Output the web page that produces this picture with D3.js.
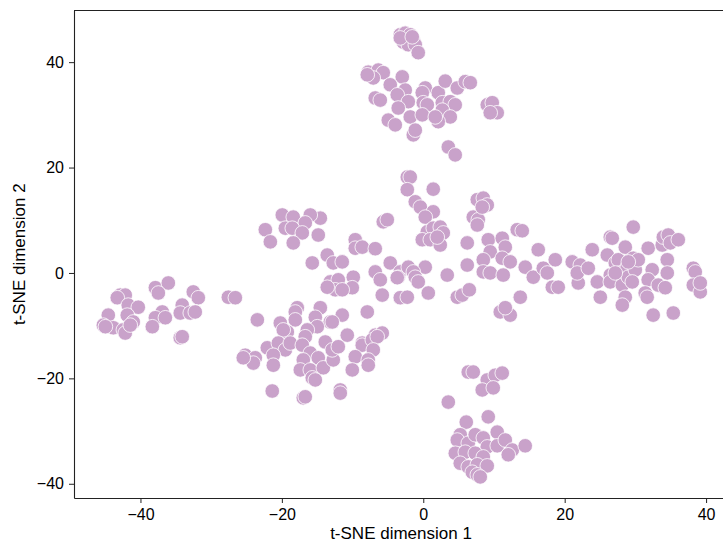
<!DOCTYPE html>
<html>
<head>
<meta charset="utf-8" />
<style>
body { margin: 0; background-color: #FFF; }
#chart { width: 723px; height: 544px; }
text { font-family: "Liberation Sans", Arial, sans-serif; }
</style>
<title>t-SNE scatter</title>
</head>
<body>
<div id="chart"></div>
<script src="https://d3js.org/d3.v7.min.js"></script>
<script>

// point groups, as [dim1, dim2]
var topCluster = [
  [-3.25,45.2],[-2.55,45.5],[-1.84,45.2],[-1.41,44.2],[-2.83,43.8],[-2.12,43.3],[-1.13,43.3],
  [-0.71,41.8],[-3.25,44.6],[-1.56,44.8],[-7.78,38.1],[-6.36,38.5],[-5.66,38.0],[-7.07,37.0],
  [-7.92,37.6],[-2.97,37.2],[-4.67,35.7],[-2.55,34.7],[-3.68,33.8],[-2.12,32.5],[-6.79,33.2],
  [-6.08,32.8],[-3.54,31.3],[-1.84,29.6],[-4.95,29.0],[-3.96,28.1],[-1.41,26.2],[-1.13,27.1],
  [0.28,35.1],[-0.14,34.2],[0.0,32.3],[0.57,31.9],[-0.14,30.0],[2.12,34.2],[3.11,36.4],
  [4.81,35.1],[5.94,36.3],[6.65,36.1],[2.69,32.3],[3.82,32.5],[4.52,31.9],[2.69,30.9],
  [3.82,29.6],[2.12,28.7],[1.70,29.6],[9.05,31.9],[9.76,32.3],[10.46,30.4],[9.47,30.4],
  [3.54,23.9],[4.52,22.4]
];

var centerCluster = [
  [-2.26,18.2],[-1.84,18.2],[-2.26,15.8],[1.41,15.9],[-1.13,13.5],[-0.42,12.5],[1.41,11.6],
  [0.28,10.6],[0.57,7.8],[1.41,8.5],[2.40,8.7],[2.83,7.6],[-0.14,6.3],[0.99,6.3],[2.40,5.3],
  [1.98,6.8],[7.64,13.9],[8.49,14.2],[9.05,12.9],[7.07,10.6],[7.78,10.1],[7.64,9.1],[8.34,12.5],
  [6.22,5.7],[9.19,6.3],[11.17,6.6],[11.60,4.9],[9.47,4.0],[8.49,2.5],[11.17,2.8],[12.30,2.1],
  [8.49,0.2],[9.47,0.0],[11.31,-0.4],[13.29,8.2],[14.0,8.0],[16.26,4.4],[14.42,1.1],[15.56,-0.8],
  [16.97,0.9],[17.54,0.0],[6.22,1.5],[3.39,-0.4],[0.28,1.1],[0.71,-3.8],[4.81,-4.6],[5.52,-4.2],
  [6.51,-3.2],[13.72,-4.6],[10.89,-7.4],[12.30,-8.0],[11.60,-6.6],[-4.67,1.9],[-3.25,0.2],
  [-3.54,-0.8],[-2.12,1.1],[-1.41,0.2],[-1.13,-0.8],[-0.71,-1.7],[-3.25,-4.7],[-2.26,-4.6]
];

var midLeftCluster = [
  [-5.66,9.7],[-5.09,10.1],[-9.62,6.3],[-9.62,4.7],[-8.63,4.9],[-6.79,4.6],[-14.56,10.4],
  [-14.85,7.2],[-13.58,3.4],[-12.73,1.9],[-11.46,2.1],[-15.70,1.9],[-6.79,0.2],[-6.08,-1.3],
  [-5.80,-4.2],[-3.68,-0.9],[-9.90,-0.8],[-10.04,-2.8],[-13.15,-1.7],[-12.02,-1.3],[-12.44,-3.2],
  [-11.46,-3.2],[-13.58,-2.7],[-7.92,-7.4],[-11.46,-8.0],[-13.15,-9.3],[-14.56,-6.6],
  [-10.75,-11.8],[-6.79,-11.8],[-5.80,-11.4],[-8.63,-13.3],[-17.82,-6.6],
  [-19.94,11.0],[-18.39,10.6],[-15.98,11.0],[-16.69,9.5],[-19.51,8.5],[-18.53,8.5],[-17.11,7.6],
  [-22.34,8.2],[-21.63,5.9],[-18.39,5.7],[-27.57,-4.6],[-26.58,-4.7]
];

var lowerLeftCluster = [
  [-23.47,-8.9],[-20.22,-9.5],[-18.10,-7.4],[-18.10,-8.9],[-15.27,-8.4],[-14.99,-10.2],
  [-16.40,-10.8],[-16.69,-12.1],[-19.23,-11.2],[-19.80,-10.8],[-12.87,-9.3],[-22.06,-14.2],
  [-20.50,-13.3],[-19.51,-14.6],[-18.81,-13.3],[-17.11,-13.7],[-21.21,-15.6],[-21.21,-17.5],
  [-25.18,-15.6],[-23.76,-16.1],[-24.04,-17.1],[-25.46,-16.1],[-15.98,-15.2],[-14.85,-16.1],
  [-16.97,-16.5],[-17.39,-18.4],[-15.98,-18.4],[-14.14,-18.0],[-15.70,-19.9],[-15.27,-20.3],
  [-12.73,-16.5],[-13.86,-13.1],[-12.87,-14.6],[-12.02,-14.0],[-8.63,-13.7],[-7.21,-12.7],
  [-6.51,-12.1],[-7.07,-14.6],[-9.62,-15.9],[-7.78,-16.5],[-7.78,-17.5],[-10.04,-18.4],
  [-21.36,-22.4],[-16.97,-23.7],[-16.69,-23.5],[-11.74,-22.2],[-11.74,-22.8]
];

var farLeftCluster = [
  [-42.86,-4.2],[-42.15,-4.2],[-43.28,-4.7],[-41.73,-6.1],[-40.31,-6.5],[-44.55,-8.0],
  [-41.87,-8.0],[-41.02,-9.3],[-45.25,-9.9],[-43.84,-10.4],[-42.42,-10.8],[-42.15,-11.4],
  [-44.96,-10.2],[-41.44,-9.9],[-37.89,-2.8],[-36.06,-1.9],[-37.47,-3.8],[-36.91,-7.4],
  [-37.89,-8.5],[-36.48,-8.5],[-38.32,-10.2],[-32.53,-3.6],[-31.82,-4.7],[-34.09,-6.1],
  [-34.37,-7.6],[-32.96,-7.6],[-32.25,-7.4],[-34.37,-12.3],[-34.09,-12.1]
];

var rightArm = [
  [18.25,-2.7],[19.09,-2.7],[18.67,2.5],[21.07,2.1],[22.21,1.5],[21.92,-1.9],[21.78,0.0],
  [23.90,4.4],[23.34,0.9],[24.61,-1.7],[25.04,-4.6],[26.03,3.4],[26.45,6.8],[26.73,6.6],
  [27.16,1.9],[26.45,-0.4],[26.45,-1.7],[27.58,2.5],[27.86,0.0],[28.15,-2.3],[28.57,4.9],
  [28.85,1.1],[29.0,-0.8],[29.56,1.9],[29.70,2.8],[29.99,0.6],[30.41,2.5],[29.56,-1.7],
  [28.57,-4.6],[28.15,-6.1],[29.70,8.7],[31.81,4.7],[32.38,0.6],[31.81,-1.3],[31.39,-3.8],
  [31.67,-4.6],[32.52,-8.0],[33.24,-2.3],[34.23,-2.8],[34.51,2.5],[34.51,0.0],[33.80,5.3],
  [33.95,6.8],[34.65,7.2],[34.94,5.7],[36.07,6.3],[35.36,-7.6],[38.19,0.9],[38.47,0.2],
  [38.19,-2.3],[39.18,-3.6],[39.18,-1.9],[29.0,2.1],[27.16,0.0]
];

var bottomCluster = [
  [6.36,-18.8],[7.07,-18.8],[9.05,-20.3],[10.18,-19.4],[11.17,-19.0],[8.34,-22.2],[9.90,-21.8],
  [3.54,-24.5],[6.08,-28.3],[9.19,-27.3],[10.46,-30.2],[5.23,-30.7],[4.81,-31.7],[6.36,-32.3],
  [7.35,-30.7],[8.49,-31.3],[9.05,-33.0],[10.46,-32.8],[11.60,-31.7],[12.59,-33.6],[12.02,-34.5],
  [14.42,-32.8],[4.53,-34.2],[5.94,-34.0],[7.35,-34.2],[8.49,-34.9],[5.23,-36.1],[6.36,-36.8],
  [7.64,-36.4],[9.05,-36.6],[6.93,-37.8],[7.64,-38.3],[8.06,-38.7]
];

var xTicks = [-40, -20, 0, 20, 40];
var yTicks = [-40, -20, 0, 20, 40];
var xLabel = "t-SNE dimension 1";
var yLabel = "t-SNE dimension 2";

var points = [].concat(topCluster, centerCluster, midLeftCluster, lowerLeftCluster,
                       farLeftCluster, rightArm, bottomCluster);

var width = 723, height = 544;
var plotLeft = 74, plotRight = 728, plotTop = 10.5, plotBottom = 498;

var svg = d3.select("#chart").append("svg")
    .attr("width", width)
    .attr("height", height);

// the axes box runs just past the right edge of the picture, like the reference
var x = d3.scaleLinear().domain([-49.4, 43.1]).range([plotLeft, plotRight]);
var y = d3.scaleLinear().domain([-42.7, 49.8]).range([plotBottom, plotTop]);

svg.append("g")
    .selectAll("circle")
    .data(points)
    .enter().append("circle")
    .attr("cx", function(d) { return x(d[0]); })
    .attr("cy", function(d) { return y(d[1]); })
    .attr("r", 7.3)
    .style("fill", "#c9a2ca")
    .style("stroke", "#fff")
    .style("stroke-width", 0.8);

var xAxis = svg.append("g")
    .attr("transform", "translate(0," + plotBottom + ")")
    .call(d3.axisBottom(x).tickValues(xTicks).tickSize(5).tickSizeOuter(0)
          .tickPadding(5).tickFormat(d3.format("d")));

var yAxis = svg.append("g")
    .attr("transform", "translate(" + plotLeft + ",0)")
    .call(d3.axisLeft(y).tickValues(yTicks).tickSize(5).tickSizeOuter(0)
          .tickPadding(5).tickFormat(d3.format("d")));

[xAxis, yAxis].forEach(function(g) {
    g.select(".domain").attr("stroke", "#222").attr("stroke-width", 1.1);
    g.selectAll(".tick line").attr("stroke", "#222");
    g.selectAll(".tick text")
        .style("font-size", "16px")
        .style("font-family", "'Liberation Sans', Arial, sans-serif")
        .attr("fill", "#000");
});
xAxis.selectAll(".tick text").attr("dy", "0.75em");

// top spine
svg.append("line")
    .attr("x1", plotLeft).attr("x2", plotRight)
    .attr("y1", plotTop).attr("y2", plotTop)
    .attr("stroke", "#222").attr("stroke-width", 1.1);

svg.append("text")
    .attr("x", (plotLeft + plotRight) / 2)
    .attr("y", 539)
    .attr("text-anchor", "middle")
    .style("font-size", "17px")
    .text(xLabel);

svg.append("text")
    .attr("transform", "translate(25," + ((plotTop + plotBottom) / 2) + ") rotate(-90)")
    .attr("text-anchor", "middle")
    .style("font-size", "17px")
    .text(yLabel);

</script>
</body>
</html>
